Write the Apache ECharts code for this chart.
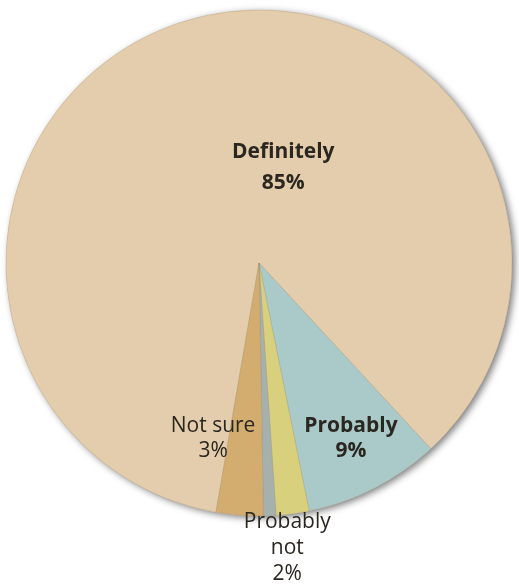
<!DOCTYPE html>
<html>
<head>
<meta charset="utf-8">
<script src="https://cdn.jsdelivr.net/npm/echarts@6/dist/echarts.min.js"></script>
<style>
  html, body { margin: 0; padding: 0; background: #fff; }
  #chart { width: 519px; height: 586px; }
</style>
</head>
<body>
<div id="chart"></div>
<script>
// Data (shares in %)
const categories = ['Definitely', 'Probably', 'Probably not', 'Definitely not', 'Not sure'];
const shares = [85.4, 8.7, 2.1, 0.8, 3.0];

// Styling
const sliceColors = ['#E4CDAC', '#AAC9C9', '#D9D07D', '#A6B1AE', '#D2AD6F'];
const boldLabel = [true, true, false, false, false];
const showLabel = [true, true, true, false, true];
const labelOffsets = [[61, 29], [33, 60], [11, 157], [0, 0], [-36, 46]];
const labelLineHeights = [31, 25, 26, 26, 25];

const myChart = echarts.init(document.getElementById('chart'));

const seriesData = categories.map((name, i) => ({
    name: name,
    value: shares[i],
    itemStyle: { color: sliceColors[i] },
    label: {
        show: showLabel[i],
        offset: labelOffsets[i],
        lineHeight: labelLineHeights[i],
        fontWeight: boldLabel[i] ? 'bold' : 'normal',
        formatter: name === 'Probably not' ? 'Probably\nnot\n{d}%' : '{b}\n{d}%'
    }
}));

const total = shares.reduce((a, b) => a + b, 0);

const option = {
    animation: false,
    backgroundColor: '#ffffff',
    series: [
        {
            // whole disc underneath, only to cast the soft shadow
            type: 'pie',
            silent: true,
            z: 1,
            center: [259, 263],
            radius: [0, 253],
            label: { show: false },
            labelLine: { show: false },
            itemStyle: {
                color: '#E4CDAC',
                shadowBlur: 7,
                shadowOffsetX: 3,
                shadowOffsetY: 2,
                shadowColor: 'rgba(0,0,0,0.5)'
            },
            data: [{ name: 'all', value: total }]
        },
        {
            type: 'pie',
            z: 2,
            center: [259, 263],
            radius: [0, 253],
            startAngle: 260.2,
            clockwise: true,
            percentPrecision: 0,
            avoidLabelOverlap: false,
            itemStyle: {
                borderColor: 'rgba(120,110,90,0.35)',
                borderWidth: 0.5
            },
            label: {
                position: 'inside',
                color: '#2a2620',
                fontFamily: 'Open Sans',
                fontSize: 21,
                align: 'center'
            },
            labelLine: { show: false },
            emphasis: { disabled: true },
            data: seriesData
        }
    ]
};

myChart.setOption(option, true);
</script>
</body>
</html>
